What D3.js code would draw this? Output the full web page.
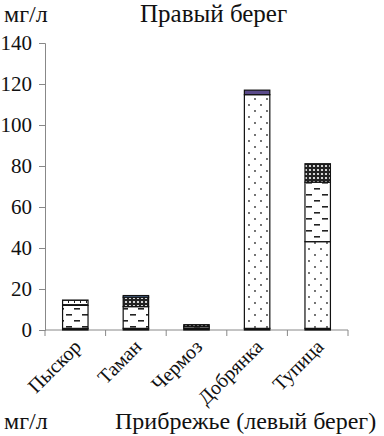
<!DOCTYPE html>
<html>
<head>
<meta charset="utf-8">
<script src="https://cdn.jsdelivr.net/npm/d3@7"></script>
<style>
  body { margin: 0; background: #fff; }
  svg { display: block; font-family: "Liberation Serif", "DejaVu Serif", serif; }
</style>
</head>
<body>
<svg id="chart" width="384" height="436"></svg>
<script>
const categories = ["Пыскор", "Таман", "Чермоз", "Добрянка", "Тупица"]
const yTicks = [0, 20, 40, 60, 80, 100, 120, 140]

// stacked segments, bottom to top
const seriesKeys = ["solid", "dots", "dashes", "cross", "brick", "blue", "purple"]
const solid = [0.8, 0.8, 1.0, 0.8, 0.8]
const dots = [0, 0, 0, 114, 42.3]
const dashes = [11.2, 10.6, 0.8, 0, 29]
const cross = [0, 4.6, 0.8, 0, 9]
const brick = [2.6, 0, 0, 0, 0]
const blue = [0, 0.8, 0, 0, 0]
const purple = [0, 0, 0, 2.2, 0]

const rows = categories.map((c, i) => ({
    cat: c, solid: solid[i], dots: dots[i], dashes: dashes[i],
    cross: cross[i], brick: brick[i], blue: blue[i], purple: purple[i]
}))

const svg = d3.select("#chart")
const mLeft = 45, mRight = 348, mTop = 43, mBottom = 330

const x = d3.scaleBand().domain(categories).range([mLeft, mRight]).paddingInner(0.58).paddingOuter(0.29)
const y = d3.scaleLinear().domain([0, 140]).range([mBottom, mTop])

// patterns
const defs = svg.append("defs")
const pDots = defs.append("pattern").attr("id", "p-dots").attr("patternUnits", "userSpaceOnUse")
    .attr("width", 12).attr("height", 12)
pDots.append("rect").attr("width", 12).attr("height", 12).attr("fill", "#fff")
pDots.append("circle").attr("cx", 3).attr("cy", 3).attr("r", 0.9).attr("fill", "#333")
pDots.append("circle").attr("cx", 9).attr("cy", 9).attr("r", 0.9).attr("fill", "#333")

const pDash = defs.append("pattern").attr("id", "p-dashes").attr("patternUnits", "userSpaceOnUse")
    .attr("width", 16).attr("height", 12)
pDash.append("rect").attr("width", 16).attr("height", 12).attr("fill", "#fff")
pDash.append("rect").attr("x", 2).attr("y", 2).attr("width", 6).attr("height", 1.6).attr("fill", "#222")
pDash.append("rect").attr("x", 10).attr("y", 8).attr("width", 6).attr("height", 1.6).attr("fill", "#222")

const pCross = defs.append("pattern").attr("id", "p-cross").attr("patternUnits", "userSpaceOnUse")
    .attr("width", 4).attr("height", 4)
pCross.append("rect").attr("width", 4).attr("height", 4).attr("fill", "#222")
pCross.append("circle").attr("cx", 2).attr("cy", 2).attr("r", 1.1).attr("fill", "#fff")

const pBrick = defs.append("pattern").attr("id", "p-brick").attr("patternUnits", "userSpaceOnUse")
    .attr("width", 6).attr("height", 4)
pBrick.append("rect").attr("width", 6).attr("height", 4).attr("fill", "#fff")
pBrick.append("rect").attr("x", 0).attr("y", 0).attr("width", 6).attr("height", 1).attr("fill", "#222")
pBrick.append("rect").attr("x", 2).attr("y", 0).attr("width", 1).attr("height", 3).attr("fill", "#222")

const fills = {
    solid: "#111", dots: "url(#p-dots)", dashes: "url(#p-dashes)", cross: "url(#p-cross)",
    brick: "url(#p-brick)", blue: "#6f9bd8", purple: "#5a4a8a"
}

// axes
const yAxis = svg.append("g")
    .attr("transform", `translate(${mLeft},0)`)
    .call(d3.axisLeft(y).tickValues(yTicks).tickSize(6).tickPadding(7))
yAxis.select(".domain").attr("stroke", "#888")
yAxis.selectAll(".tick line").attr("stroke", "#888")
yAxis.selectAll(".tick text").attr("font-size", 21).attr("fill", "#111")
    .attr("font-family", "Liberation Serif, serif")

const xAxis = svg.append("g").attr("transform", `translate(0,${mBottom})`)
xAxis.append("line").attr("x1", mLeft).attr("x2", mRight).attr("stroke", "#888")
xAxis.selectAll(".bt").data(d3.range(categories.length + 1)).join("line")
    .attr("x1", i => mLeft + i * (mRight - mLeft) / categories.length)
    .attr("x2", i => mLeft + i * (mRight - mLeft) / categories.length)
    .attr("y1", 0).attr("y2", 6).attr("stroke", "#888")

// bars
const stacked = d3.stack().keys(seriesKeys)(rows)
svg.append("g").selectAll("g").data(stacked).join("g")
    .attr("fill", d => fills[d.key])
    .selectAll("rect").data(d => d.filter(s => s[1] - s[0] > 0)).join("rect")
    .attr("x", d => x(d.data.cat))
    .attr("width", x.bandwidth())
    .attr("y", d => y(d[1]))
    .attr("height", d => y(d[0]) - y(d[1]))
    .attr("stroke", "#111").attr("stroke-width", 1.2)

// category labels
svg.append("g").selectAll("text").data(categories).join("text")
    .attr("transform", d => `translate(${x(d) + x.bandwidth() / 2 + 7},${mBottom + 18}) rotate(-45)`)
    .attr("text-anchor", "end")
    .attr("font-size", 20)
    .attr("fill", "#111")
    .text(d => d)

// titles
svg.append("text").attr("x", 4).attr("y", 22).attr("font-size", 24).attr("fill", "#111").text("мг/л")
svg.append("text").attr("x", 140).attr("y", 22).attr("font-size", 25).attr("fill", "#111").text("Правый берег")
svg.append("text").attr("x", 4).attr("y", 429).attr("font-size", 24).attr("fill", "#111").text("мг/л")
svg.append("text").attr("x", 115).attr("y", 429).attr("font-size", 24).attr("fill", "#111").text("Прибрежье (левый берег)")
</script>
</body>
</html>
